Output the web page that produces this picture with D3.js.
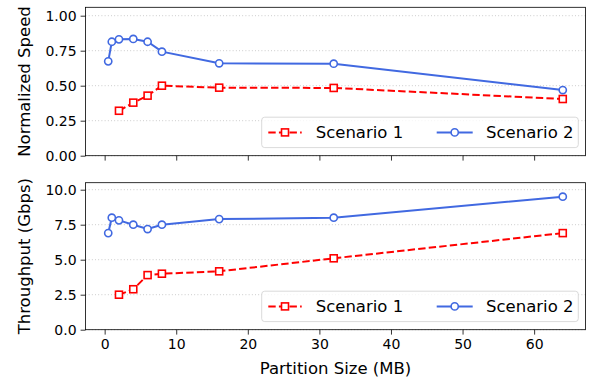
<!DOCTYPE html>
<html><head><meta charset="utf-8">
<script src="https://cdn.jsdelivr.net/npm/d3@7"></script>
<style>body{margin:0;background:#fff}svg{display:block;font-family:"DejaVu Sans",sans-serif}</style>
</head><body>
<svg id="c" width="592" height="383"></svg>
<script>
const partitionSizes1 = [2, 4, 6, 8, 16, 32, 64];
const partitionSizes2 = [0.5, 1, 2, 4, 6, 8, 16, 32, 64];
const speedScenario1 = [0.321, 0.379, 0.429, 0.500, 0.486, 0.484, 0.405];
const speedScenario2 = [0.674, 0.814, 0.831, 0.834, 0.814, 0.743, 0.660, 0.657, 0.469];
const thrScenario1 = [2.50, 2.89, 3.90, 4.00, 4.17, 5.10, 6.90];
const thrScenario2 = [6.90, 8.00, 7.81, 7.50, 7.19, 7.50, 7.90, 8.00, 9.50];
const xTicks = [0, 10, 20, 30, 40, 50, 60];
const speedTicks = [0, 0.25, 0.5, 0.75, 1.0];
const thrTicks = [0, 2.5, 5.0, 7.5, 10.0];
const seriesNames = ["Scenario 1", "Scenario 2"];

const svg = d3.select("#c");
const L = 85.5, R = 585.5;
const x = d3.scaleLinear().domain([-2.675, 67.175]).range([L, R]);
const RED = "#ff0000", BLUE = "#4169e1";

const panels = [
  {top: 7.3, bottom: 155.7, domain: [0, 1.06], ticks: speedTicks, fmt: d3.format(".2f"),
   label: "Normalized Speed", s1: speedScenario1, s2: speedScenario2, showX: false},
  {top: 182.7, bottom: 329.7, domain: [0, 10.5], ticks: thrTicks, fmt: d3.format(".1f"),
   label: "Throughput (Gbps)", s1: thrScenario1, s2: thrScenario2, showX: true}
];

panels.forEach(p => {
  const y = d3.scaleLinear().domain(p.domain).range([p.bottom, p.top]);
  const g = svg.append("g");
  g.append("g").selectAll("line").data(p.ticks).join("line")
    .attr("x1", L).attr("x2", R).attr("y1", d => y(d)).attr("y2", d => y(d))
    .attr("stroke", "#b0b0b0").attr("stroke-width", 0.8).attr("stroke-dasharray", "0.8,2.4");
  const ya = g.append("g").attr("transform", `translate(${L},0)`)
    .call(d3.axisLeft(y).tickValues(p.ticks).tickFormat(p.fmt).tickSize(4.9).tickPadding(4));
  ya.select(".domain").remove();
  ya.selectAll("text").attr("font-size", 14).attr("fill", "#000").attr("font-family", "DejaVu Sans");
  ya.selectAll("line").attr("stroke", "#000").attr("stroke-width", 0.8);
  const xa = g.append("g").attr("transform", `translate(0,${p.bottom})`)
    .call(d3.axisBottom(x).tickValues(xTicks).tickFormat(p.showX ? d3.format("d") : "").tickSize(4.9).tickPadding(4));
  xa.select(".domain").remove();
  xa.selectAll("text").attr("font-size", 14).attr("fill", "#000").attr("font-family", "DejaVu Sans");
  xa.selectAll("line").attr("stroke", "#000").attr("stroke-width", 0.8);
  g.append("rect").attr("x", L).attr("y", p.top).attr("width", R - L).attr("height", p.bottom - p.top)
    .attr("fill", "none").attr("stroke", "#000").attr("stroke-width", 0.8);
  g.append("text").attr("transform", `translate(24,${(p.top + p.bottom) / 2}) rotate(-90)`)
    .attr("text-anchor", "middle").attr("font-size", 16.5).attr("dy", "0.35em").text(p.label);

  const line = d3.line().x(d => x(d[0])).y(d => y(d[1]));
  const d1 = partitionSizes1.map((v, i) => [v, p.s1[i]]);
  const d2 = partitionSizes2.map((v, i) => [v, p.s2[i]]);
  g.append("path").datum(d1).attr("d", line).attr("fill", "none").attr("stroke", RED)
    .attr("stroke-width", 2).attr("stroke-dasharray", "7.4,3.2");
  g.append("g").selectAll("rect").data(d1).join("rect")
    .attr("x", d => x(d[0]) - 3.5).attr("y", d => y(d[1]) - 3.5).attr("width", 7).attr("height", 7)
    .attr("fill", "#fff").attr("stroke", RED).attr("stroke-width", 1.6);
  g.append("path").datum(d2).attr("d", line).attr("fill", "none").attr("stroke", BLUE).attr("stroke-width", 2);
  g.append("g").selectAll("circle").data(d2).join("circle")
    .attr("cx", d => x(d[0])).attr("cy", d => y(d[1])).attr("r", 3.6)
    .attr("fill", "#fff").attr("stroke", BLUE).attr("stroke-width", 1.6);

  const lx = 261.7, ly = p.bottom - 38.5, lw = 316.6, lh = 30.4;
  const lg = g.append("g");
  lg.append("rect").attr("x", lx).attr("y", ly).attr("width", lw).attr("height", lh).attr("rx", 3)
    .attr("fill", "#fff").attr("fill-opacity", 0.8).attr("stroke", "#d0d0d0").attr("stroke-width", 0.8);
  const cy = ly + lh / 2;
  lg.append("line").attr("x1", 268.3).attr("x2", 301.7).attr("y1", cy).attr("y2", cy)
    .attr("stroke", RED).attr("stroke-width", 2).attr("stroke-dasharray", "7.4,3.2");
  lg.append("rect").attr("x", 285 - 3.5).attr("y", cy - 3.5).attr("width", 7).attr("height", 7)
    .attr("fill", "#fff").attr("stroke", RED).attr("stroke-width", 1.6);
  lg.append("text").attr("x", 315.7).attr("y", cy).attr("dy", "0.35em").attr("font-size", 16.5).text(seriesNames[0]);
  lg.append("line").attr("x1", 436.7).attr("x2", 472.7).attr("y1", cy).attr("y2", cy)
    .attr("stroke", BLUE).attr("stroke-width", 2);
  lg.append("circle").attr("cx", 454.7).attr("cy", cy).attr("r", 3.6)
    .attr("fill", "#fff").attr("stroke", BLUE).attr("stroke-width", 1.6);
  lg.append("text").attr("x", 486).attr("y", cy).attr("dy", "0.35em").attr("font-size", 16.5).text(seriesNames[1]);
});

svg.append("text").attr("x", (L + R) / 2).attr("y", 374).attr("text-anchor", "middle")
  .attr("font-size", 16.5).text("Partition Size (MB)");
</script>
</body></html>
